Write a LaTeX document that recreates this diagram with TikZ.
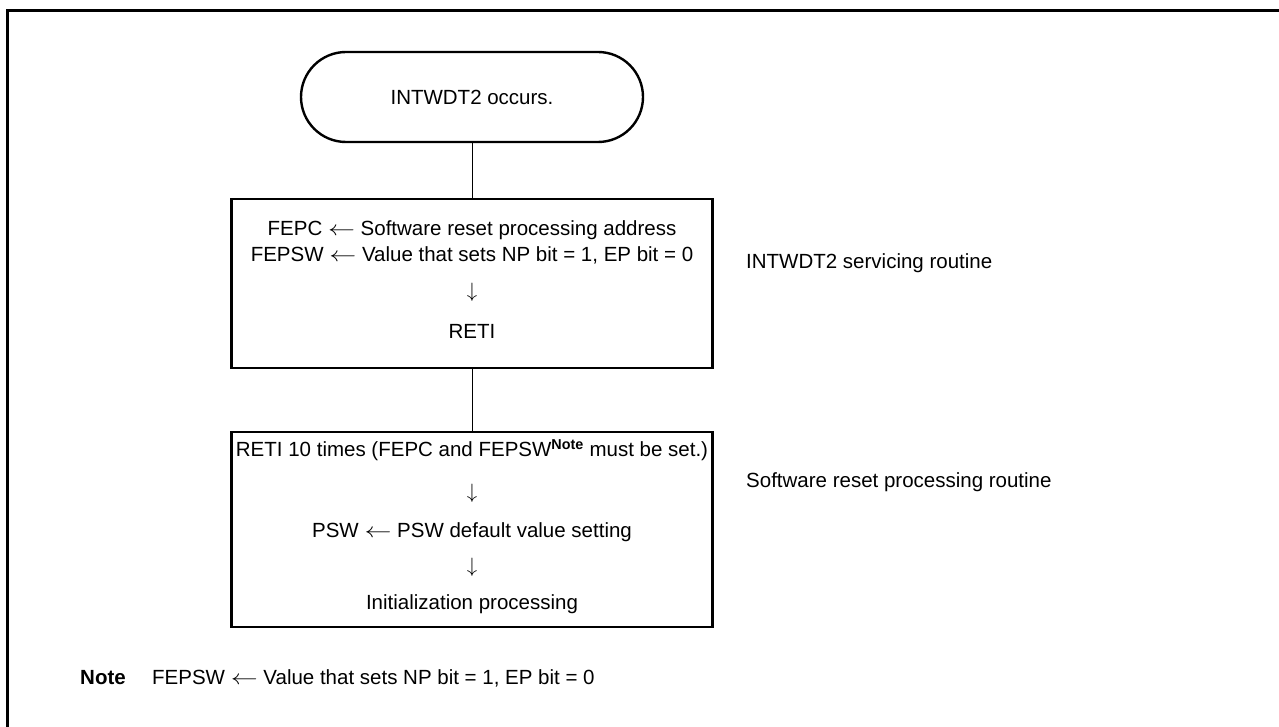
\documentclass[tikz,border=0pt]{standalone}
\usepackage{fontspec}
\setmainfont{Liberation Sans}
\usetikzlibrary{shapes.misc}
\newcommand{\larr}{\scalebox{1.3}[1]{$\leftarrow$}}
\tikzset{
  txt/.style={inner sep=0pt, font=\fontsize{20.5}{24}\selectfont},
  procbox/.style={draw, line width=2.4pt, minimum width=481pt, inner sep=0pt},
  termbox/.style={draw, line width=2.4pt, rounded rectangle, minimum width=342pt, minimum height=90pt, inner sep=0pt, font=\fontsize{20.5}{24}\selectfont},
  conn/.style={line width=1pt},
  frame/.style={line width=3pt}
}
\begin{document}
\begin{tikzpicture}[x=1pt,y=-1pt]
\useasboundingbox (0,0) rectangle (1279,727);
\draw[frame] (7,727) -- (7,11) -- (1279,11);

\node[termbox] (term) at (472,97) {INTWDT2 occurs.};

\node[procbox, minimum height=169pt] (box1) at (472,283.5) {};
\node[txt] (b1l1) at (472,230) {FEPC \larr{} Software reset processing address};
\node[txt] (b1l2) at (472,255) {FEPSW \larr{} Value that sets NP bit = 1, EP bit = 0};
\node[txt] (b1a) at (472,292) {$\downarrow$};
\node[txt] (b1l3) at (472,331) {RETI};

\node[procbox, minimum height=195pt] (box2) at (472,529.5) {};
\node[txt] (b2l1) at (472,450) {RETI 10 times (FEPC and FEPSW\textsuperscript{\textbf{Note}} must be set.)};
\node[txt] (b2a1) at (472,493) {$\downarrow$};
\node[txt] (b2l2) at (472,532) {PSW \larr{} PSW default value setting};
\node[txt] (b2a2) at (472,567) {$\downarrow$};
\node[txt] (b2l3) at (472,604) {Initialization processing};

\draw[conn] (term.south) -- (box1.north);
\draw[conn] (box1.south) -- (box2.north);

\node[txt, anchor=west] (lab1) at (746,263) {INTWDT2 servicing routine};
\node[txt, anchor=west] (lab2) at (746,482) {Software reset processing routine};

\node[txt, anchor=west] (notek) at (80,678) {\textbf{Note}};
\node[txt, anchor=west] (notet) at (152,678) {FEPSW \larr{} Value that sets NP bit = 1, EP bit = 0};
\end{tikzpicture}
\end{document}
